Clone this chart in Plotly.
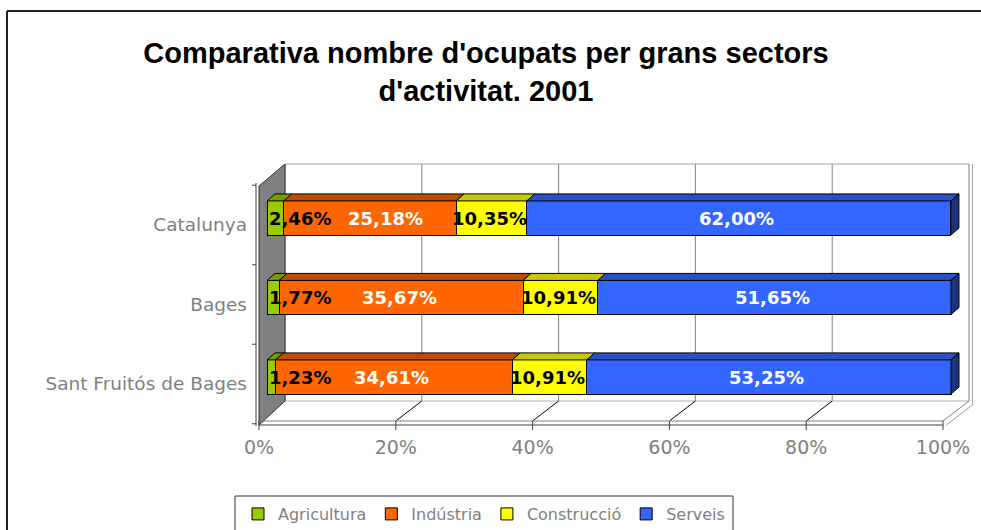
import plotly.graph_objects as go

# ---------------- data ----------------
categories = ["Sant Fruitós de Bages", "Bages", "Catalunya"]
sector_names = ["Agricultura", "Indústria", "Construcció", "Serveis"]
agricultura = [1.23, 1.77, 2.46]
industria = [34.61, 35.67, 25.18]
construccio = [10.91, 10.91, 10.35]
serveis = [53.25, 51.65, 62.00]
x_tick_values = [0, 20, 40, 60, 80, 100]
x_tick_labels = ["0%", "20%", "40%", "60%", "80%", "100%"]
title_text = "Comparativa nombre d'ocupats per grans sectors<br>d'activitat. 2001"

# ---------------- style ----------------
front_colors = ["#99CC00", "#FF6600", "#FFFF00", "#3366FF"]
top_colors = ["#7A9E00", "#BF4C00", "#C8C800", "#2A50C8"]
end_color = "#1A3380"
label_colors = ["black", "white", "black", "white"]
GRAY = "#808080"

W, H = 981, 530
ML, MR, MT, MB = 250, 6, 155, 98
X0PX, PX_X = 267, 6.84     # pixel of 0 %, pixels per 1 %
Y0PX, PX_Y = 377, 79.5     # pixel of first category, pixels per category
xrange = [(ML - X0PX) / PX_X, (W - MR - X0PX) / PX_X]
yrange = [(Y0PX - (H - MB)) / PX_Y, (Y0PX - MT) / PX_Y]
BAR_W = 0.43
DX, DY = 8 / PX_X, 7 / PX_Y          # depth of bar 3D faces
BACK = 18 / PX_X                      # back wall offset
FRONT = -8 / PX_X                     # front axis offset


def dy(py):          # pixel -> y data
    return (Y0PX - py) / PX_Y


def dxp(px):         # pixel -> x data
    return (px - X0PX) / PX_X


def px_paper_x(px):
    return (px - ML) / (W - ML - MR)


def px_paper_y(py):
    return ((H - MB) - py) / (H - MT - MB)


series = [agricultura, industria, construccio, serveis]
ypos = list(range(len(categories)))

fig = go.Figure()
for name, vals, col in zip(sector_names, series, front_colors):
    fig.add_trace(go.Bar(
        name=name, x=vals, y=ypos, orientation="h", width=BAR_W,
        marker=dict(color=col, line=dict(color="black", width=1)),
        hoverinfo="x+name",
    ))

shapes = []
y_top_wall, y_back_bottom = dy(164), dy(401)
y_floor_front, y_slab = dy(421), dy(425)

# back wall gridlines
for v in x_tick_values:
    shapes.append(dict(type="line", xref="x", yref="y", layer="below",
                       x0=v + BACK, x1=v + BACK, y0=y_back_bottom, y1=y_top_wall,
                       line=dict(color=GRAY, width=1)))
# top and right edges of back wall
shapes.append(dict(type="line", xref="x", yref="y", layer="below",
                   x0=BACK, x1=100 + BACK, y0=y_top_wall, y1=y_top_wall,
                   line=dict(color="#A0A0A0", width=1)))
shapes.append(dict(type="line", xref="x", yref="y", layer="below",
                   x0=100 + BACK + 0.5, x1=100 + BACK + 0.5, y0=y_back_bottom - 0.05, y1=y_top_wall,
                   line=dict(color="#A0A0A0", width=1)))
# floor back edge
shapes.append(dict(type="line", xref="x", yref="y", layer="below",
                   x0=BACK, x1=100 + BACK, y0=y_back_bottom, y1=y_back_bottom,
                   line=dict(color="#B0B0B0", width=1)))
# floor slanted lines
for v in x_tick_values[1:]:
    shapes.append(dict(type="line", xref="x", yref="y", layer="below",
                       x0=v + BACK, x1=v + FRONT, y0=y_back_bottom, y1=y_floor_front,
                       line=dict(color="black" if v < 100 else GRAY, width=1)))
shapes.append(dict(type="line", xref="x", yref="y", layer="below",
                   x0=100 + BACK + 0.5, x1=100 + FRONT + 0.5, y0=y_back_bottom - 0.05, y1=y_slab,
                   line=dict(color="#A0A0A0", width=1)))
# floor front edges
shapes.append(dict(type="line", xref="x", yref="y", layer="below",
                   x0=FRONT, x1=100 + FRONT, y0=y_floor_front, y1=y_floor_front,
                   line=dict(color=GRAY, width=1)))
shapes.append(dict(type="line", xref="x", yref="y", layer="below",
                   x0=FRONT, x1=100 + FRONT, y0=y_slab, y1=y_slab,
                   line=dict(color="#404040", width=1)))
# x ticks on the front edge
for v in x_tick_values:
    shapes.append(dict(type="line", xref="x", yref="y", layer="below",
                       x0=v + FRONT, x1=v + FRONT, y0=y_floor_front, y1=dy(430),
                       line=dict(color="#404040", width=1)))
# left wall
shapes.append(dict(type="path", xref="x", yref="y", layer="below",
                   path=f"M{BACK},{y_top_wall} L{BACK},{y_back_bottom} L{FRONT},{y_slab} "
                        f"L{FRONT},{dy(186)} Z",
                   fillcolor=GRAY, line=dict(color="#333333", width=1)))
# vertical axis line and ticks
shapes.append(dict(type="line", xref="x", yref="y", layer="below",
                   x0=dxp(256), x1=dxp(256), y0=dy(183), y1=dy(426),
                   line=dict(color="#404040", width=1)))
for k in [-0.5, 0.5, 1.5, 2.5]:
    yk = k - 7 / PX_Y
    shapes.append(dict(type="line", xref="x", yref="y", layer="below",
                       x0=dxp(252), x1=dxp(256), y0=yk, y1=yk,
                       line=dict(color="#404040", width=1)))

# bar top faces, end face and value labels
annotations = []
for i, yi in enumerate(ypos):
    cum = 0.0
    yt = yi + BAR_W / 2
    yb = yi - BAR_W / 2
    prev_right_px = None
    for s, vals in enumerate(series):
        v = vals[i]
        c0, c1 = cum, cum + v
        shapes.append(dict(type="path", xref="x", yref="y", layer="above",
                           path=f"M{c0},{yt} L{c1},{yt} L{c1 + DX},{yt + DY} L{c0 + DX},{yt + DY} Z",
                           fillcolor=top_colors[s], line=dict(color="black", width=1)))
        if s == len(series) - 1:
            shapes.append(dict(type="path", xref="x", yref="y", layer="above",
                               path=f"M{c1},{yb} L{c1},{yt} L{c1 + DX},{yt + DY} L{c1 + DX},{yb + DY} Z",
                               fillcolor=end_color, line=dict(color="black", width=1)))
        txt = f"{v:.2f}".replace(".", ",") + "%"
        est_w = (sum(0.696 if ch.isdigit() else (0.38 if ch == "," else 1.002) for ch in txt)) * 18
        font = dict(family="DejaVu Sans", size=18, color=label_colors[s], weight="bold")
        if s == 0:
            annotations.append(dict(x=c0, y=yi, xref="x", yref="y", text=txt, showarrow=False,
                                    xanchor="left", xshift=0, font=font))
            prev_right_px = X0PX + c0 * PX_X + est_w
        else:
            mid_px = X0PX + (c0 + c1) / 2 * PX_X
            center_px = max(mid_px - 2, prev_right_px + 19 + est_w / 2)
            annotations.append(dict(x=(c0 + c1) / 2, y=yi, xref="x", yref="y", text=txt, showarrow=False,
                                    xanchor="center", xshift=center_px - mid_px, font=font))
            prev_right_px = center_px + est_w / 2
        cum = c1

# legend box (bottom edge below the window)
shapes.append(dict(type="rect", xref="paper", yref="paper",
                   x0=px_paper_x(235), x1=px_paper_x(733), y0=px_paper_y(560), y1=px_paper_y(496),
                   line=dict(color="#333333", width=1), fillcolor="rgba(0,0,0,0)"))
# outer chart frame: only top and left edges fall inside the window
shapes.append(dict(type="line", xref="paper", yref="paper",
                   x0=px_paper_x(7), x1=px_paper_x(W + 5), y0=px_paper_y(11), y1=px_paper_y(11),
                   line=dict(color="#222222", width=2)))
shapes.append(dict(type="line", xref="paper", yref="paper",
                   x0=px_paper_x(7), x1=px_paper_x(7), y0=px_paper_y(11), y1=px_paper_y(H + 5),
                   line=dict(color="#222222", width=2)))

fig.update_layout(
    width=W, height=H,
    margin=dict(l=ML, r=MR, t=MT, b=MB, pad=0, autoexpand=False),
    barmode="stack",
    paper_bgcolor="white", plot_bgcolor="white",
    title=dict(text=title_text, x=486 / W, xref="container", xanchor="center",
               y=1 - 63 / H, yref="container", yanchor="top",
               font=dict(family="Liberation Sans, Arial, sans-serif", size=29, color="black", weight="bold")),
    xaxis=dict(range=xrange, tickvals=x_tick_values, ticktext=x_tick_labels,
               showgrid=False, zeroline=False, showline=False, ticks="",
               ticklabelshift=-8, ticklabelstandoff=2,
               tickfont=dict(family="DejaVu Sans", size=19, color=GRAY), fixedrange=True),
    yaxis=dict(range=yrange, tickvals=ypos, ticktext=categories,
               showgrid=False, zeroline=False, showline=False, ticks="",
               ticklabelshift=7, ticklabelstandoff=2,
               tickfont=dict(family="DejaVu Sans", size=18.5, color=GRAY), fixedrange=True),
    legend=dict(orientation="h", x=px_paper_x(238), xanchor="left",
                y=px_paper_y(497), yanchor="top", traceorder="normal",
                font=dict(family="DejaVu Sans", size=16, color=GRAY),
                bgcolor="rgba(0,0,0,0)", borderwidth=0),
    shapes=shapes,
    annotations=annotations,
)

fig.write_html("out.html", config={"displayModeBar": False},
               post_script="document.body.style.margin='0';document.body.style.padding='0';"
                           "document.documentElement.style.overflow='hidden';")
